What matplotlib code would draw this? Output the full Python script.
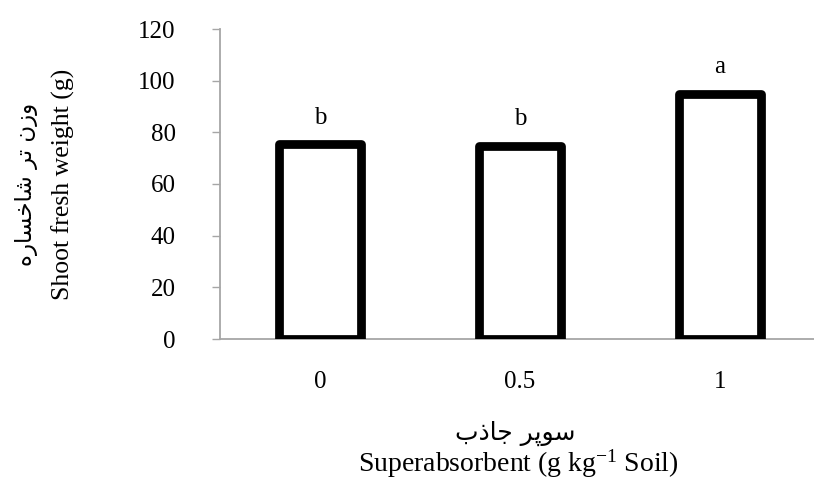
import matplotlib
matplotlib.use("Agg")
import matplotlib.pyplot as plt
import numpy as np

# data
doses = ["0", "0.5", "1"]
fresh_weight = [75.4, 74.7, 95.0]
letters = ["b", "b", "a"]
y_ticks = [0, 20, 40, 60, 80, 100, 120]

# Persian labels, written as Arabic presentation forms in visual order
# (matplotlib does no shaping / bidi on its own)
fa_ylabel = "\uFEE9\uFEAD\uFE8E\uFEB4\uFEA7\uFE8E\uFEB7 \uFEAE\uFE97 \uFEE5\uFEAF\uFEED"  # وزن تر شاخساره
fa_xlabel = "\uFE8F\uFEAB\uFE8E\uFE9F \uFEAE\uFB58\uFEEE\uFEB3"  # سوپر جاذب
en_ylabel = "Shoot fresh weight (g)"
en_xlabel = "Superabsorbent (g kg$^{-1}$ Soil)"

plt.rcParams["font.family"] = ["Liberation Serif", "DejaVu Sans"]
plt.rcParams["mathtext.fontset"] = "custom"
plt.rcParams["mathtext.rm"] = "Liberation Serif"
plt.rcParams["mathtext.default"] = "regular"

FS = 18
AXIS_GREY = "#a6a6a6"

fig = plt.figure(figsize=(8.14, 4.79), dpi=100)
ax = fig.add_axes([220 / 814, 1 - 339 / 479, 1 - 220 / 814, 310 / 479])

x = np.arange(len(doses))
ax.bar(x, fresh_weight, width=0.41, color="white", edgecolor="black",
       linewidth=6.3, joinstyle="round", zorder=3)

for xi, v, lab in zip(x, fresh_weight, letters):
    ax.text(xi, v + 8, lab, ha="center", va="baseline", fontsize=FS,
            family="Liberation Serif")

ax.set_xlim(-0.5, 2.47)
ax.set_ylim(0, 120)
ax.set_yticks(y_ticks)
ax.set_xticks(x)
ax.set_xticklabels(doses)

for s in ["top", "right"]:
    ax.spines[s].set_visible(False)
for s in ["left", "bottom"]:
    ax.spines[s].set_color(AXIS_GREY)
    ax.spines[s].set_linewidth(1.3)

ax.tick_params(axis="y", length=5.8, width=1.0, color=AXIS_GREY, pad=26,
               labelsize=FS)
ax.tick_params(axis="x", length=0, pad=23, labelsize=FS)

# axis titles: Persian line + English line
fig.text(27 / 814, 1 - 184 / 479, fa_ylabel, rotation=90, ha="center",
         va="center", fontsize=16.5, family=["DejaVu Sans"])
fig.text(63 / 814, 1 - 184 / 479, en_ylabel, rotation=90, ha="center",
         va="center", fontsize=18.5)
fig.text(515 / 814, 1 - 433 / 479, fa_xlabel, ha="center", va="center",
         fontsize=18, family=["DejaVu Sans"])
fig.text(518 / 814, 1 - 464 / 479, en_xlabel, ha="center", va="center",
         fontsize=20)

fig.savefig("out.png", dpi=100)
